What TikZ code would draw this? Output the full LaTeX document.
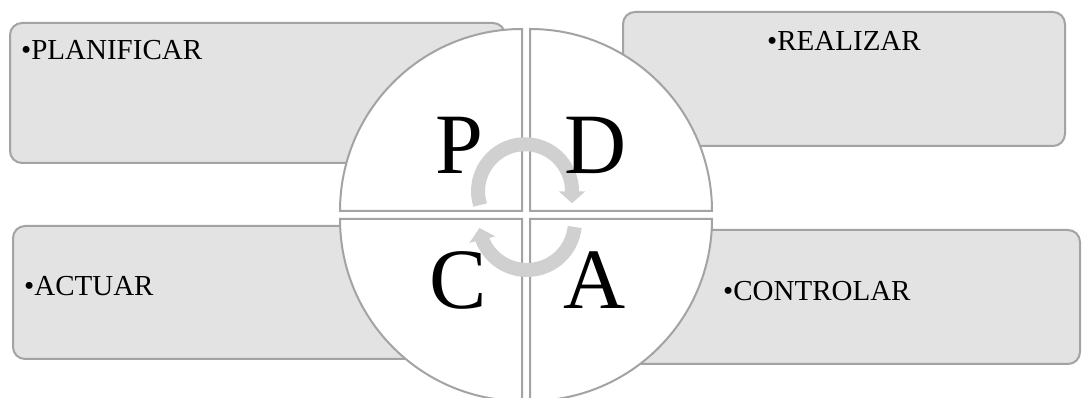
\documentclass[tikz,border=0pt]{standalone}
\usepackage{fontspec}
\setmainfont{Liberation Serif}
\usetikzlibrary{arrows.meta,calc,positioning}
\definecolor{boxgray}{HTML}{E3E3E3}
\definecolor{edgegray}{HTML}{A3A3A3}
\definecolor{arrowgray}{HTML}{D0D0D0}
\tikzset{
  stagebox/.style={draw=edgegray, line width=2pt, fill=boxgray, rounded corners=12pt, inner sep=0pt},
  stagetext/.style={inner sep=0pt, font=\fontsize{29}{33}\selectfont},
  quadrant/.style={draw=edgegray, line width=2pt, fill=white},
  letter/.style={inner sep=0pt, font=\fontsize{86}{90}\selectfont},
  cyclearrow/.style={draw=arrowgray, line width=14pt, -{Triangle[width=26pt,length=12pt]}}
}

\begin{document}
\begin{tikzpicture}[x=1pt, y=1pt]
  \useasboundingbox (0,0) rectangle (1082,398);

  \node[stagebox, minimum width=495pt, minimum height=140pt] (plan) at (257.5,305) {};
  \node[stagebox, minimum width=442pt, minimum height=134pt] (real) at (844,319) {};
  \node[stagebox, minimum width=467pt, minimum height=133pt] (act) at (246.5,105.5) {};
  \node[stagebox, minimum width=490pt, minimum height=134pt] (check) at (835,101) {};

  \node[stagetext, below right=18pt and 12pt of plan.north west] (plantext) {•PLANIFICAR};
  \node[stagetext, below=20pt of real.north] (realtext) {•REALIZAR};
  \node[stagetext, right=12pt of act.west, yshift=6pt] (acttext) {•ACTUAR};
  \node[stagetext, right=134pt of check.west, yshift=6pt] (checktext) {•CONTROLAR};

  \coordinate (tl) at (522,187);
  \coordinate (tr) at (530,187);
  \coordinate (bl) at (522,179);
  \coordinate (br) at (530,179);
  \draw[quadrant] (tl) -- ++(-182pt,0) arc[start angle=180, end angle=90, radius=182pt] -- cycle;
  \draw[quadrant] (tr) -- ++(0,182pt) arc[start angle=90, end angle=0, radius=182pt] -- cycle;
  \draw[quadrant] (bl) -- ++(0,-182pt) arc[start angle=270, end angle=180, radius=182pt] -- cycle;
  \draw[quadrant] (br) -- ++(182pt,0) arc[start angle=0, end angle=-90, radius=182pt] -- cycle;

  \coordinate (upstart) at (480.1,193);
  \coordinate (lowstart) at (574.7,171);
  \draw[cyclearrow] (upstart) arc[start angle=197, end angle=0, radius=47pt] -- ++(0,-12pt);
  \draw[cyclearrow] (lowstart) arc[start angle=-6, end angle=-158, radius=48pt] -- ++(-3pt,12pt);

  \node[letter] (P) at (459,253) {P};
  \node[letter] (D) at (596,253) {D};
  \node[letter] (C) at (458.5,117.5) {C};
  \node[letter] (A) at (595,118) {A};
\end{tikzpicture}
\end{document}
